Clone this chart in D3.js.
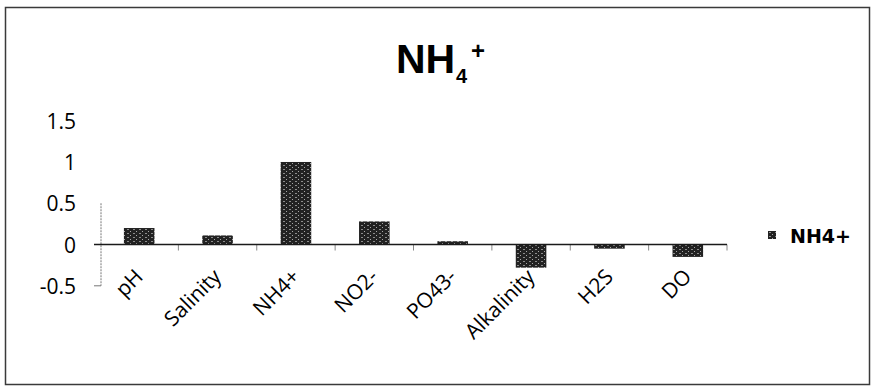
<!DOCTYPE html>
<html>
<head>
<meta charset="utf-8">
<script src="https://cdn.jsdelivr.net/npm/d3@7"></script>
<style>
  html, body { margin: 0; padding: 0; background: #fff; }
  svg { display: block; }
</style>
</head>
<body>
<svg id="chart" width="871" height="386"></svg>
<script>
// Parameters measured against NH4+
const categories = ["pH", "Salinity", "NH4+", "NO2-", "PO43-", "Alkalinity", "H2S", "DO"];
const values = [0.2, 0.11, 1.0, 0.28, 0.04, -0.28, -0.05, -0.15];
const yTicks = [-0.5, 0, 0.5, 1, 1.5];
const seriesName = "NH4+";

const svg = d3.select("#chart");
const plot = { left: 100, right: 727, top: 120.7, bottom: 285.8 };

const x = d3.scaleBand()
  .domain(categories)
  .range([plot.left, plot.right])
  .paddingInner(0.61)
  .paddingOuter(0.305);

const y = d3.scaleLinear()
  .domain([-0.5, 1.5])
  .range([plot.bottom, plot.top]);

// Stippled dark fill for the bars
const defs = svg.append("defs");
const pat = defs.append("pattern")
  .attr("id", "stipple")
  .attr("patternUnits", "userSpaceOnUse")
  .attr("width", 6).attr("height", 4);
pat.append("rect").attr("width", 6).attr("height", 4).attr("fill", "#222");
pat.append("rect").attr("x", 1).attr("y", 1).attr("width", 2).attr("height", 1).attr("fill", "#8c8c8c");
pat.append("rect").attr("x", 4).attr("y", 3).attr("width", 1).attr("height", 1).attr("fill", "#a8a8a8");

// Chart frame
svg.append("rect")
  .attr("x", 5.5).attr("y", 7.5)
  .attr("width", 864).attr("height", 377)
  .attr("fill", "none")
  .attr("stroke", "#3a3a3a")
  .attr("stroke-width", 1.5);

// Title NH4+
const titleFont = "'Liberation Sans', Arial, sans-serif";
svg.append("text")
  .attr("x", 396).attr("y", 73)
  .attr("font-family", titleFont).attr("font-weight", "bold")
  .attr("font-size", 41).attr("fill", "#000")
  .text("NH");
svg.append("text")
  .attr("x", 456).attr("y", 83)
  .attr("font-family", titleFont).attr("font-weight", "bold")
  .attr("font-size", 20).attr("fill", "#000")
  .text("4");
svg.append("text")
  .attr("x", 471).attr("y", 59)
  .attr("font-family", titleFont).attr("font-weight", "bold")
  .attr("font-size", 24).attr("fill", "#000")
  .text("+");

// Vertical axis line (partial, dotted grey)
svg.append("line")
  .attr("x1", plot.left + 1).attr("x2", plot.left + 1)
  .attr("y1", y(0.5)).attr("y2", y(-0.5))
  .attr("stroke", "#777").attr("stroke-width", 1)
  .attr("stroke-dasharray", "2,1");
svg.append("line")
  .attr("x1", plot.left - 6).attr("x2", plot.left + 1)
  .attr("y1", y(-0.5)).attr("y2", y(-0.5))
  .attr("stroke", "#777").attr("stroke-width", 1);

// Y tick labels
const yAxis = svg.append("g")
  .attr("transform", `translate(${76},0)`)
  .call(d3.axisLeft(y).tickValues(yTicks).tickSize(0).tickPadding(0)
    .tickFormat(d => String(d)));
yAxis.select(".domain").remove();
yAxis.selectAll("text")
  .attr("font-family", "'Open Sans', sans-serif")
  .attr("font-size", 21)
  .attr("fill", "#000")
  .attr("dy", "0.36em");

// Bars
svg.append("g")
  .selectAll("rect")
  .data(categories.map((c, i) => ({ c, v: values[i] })))
  .join("rect")
  .attr("x", d => x(d.c))
  .attr("width", x.bandwidth())
  .attr("y", d => y(Math.max(0, d.v)))
  .attr("height", d => Math.abs(y(d.v) - y(0)))
  .attr("fill", "url(#stipple)");

// Category tick marks at band boundaries
const step = x.step();
svg.append("g")
  .selectAll("line")
  .data(d3.range(1, categories.length + 1))
  .join("line")
  .attr("x1", i => plot.left + i * step)
  .attr("x2", i => plot.left + i * step)
  .attr("y1", y(0)).attr("y2", y(0) + 6)
  .attr("stroke", "#888").attr("stroke-width", 1);

// Zero baseline
svg.append("line")
  .attr("x1", plot.left - 6).attr("x2", plot.right)
  .attr("y1", y(0)).attr("y2", y(0))
  .attr("stroke", "#1a1a1a").attr("stroke-width", 1.5);

// Category labels, rotated
svg.append("g")
  .selectAll("text")
  .data(categories)
  .join("text")
  .attr("transform", d => `translate(${x(d) + x.bandwidth() / 2 + 5},${278}) rotate(-45)`)
  .attr("text-anchor", "end")
  .attr("font-family", "'Open Sans', sans-serif")
  .attr("font-size", 21)
  .attr("fill", "#000")
  .text(d => d);

// Legend
const legend = svg.append("g").attr("transform", "translate(768,231)");
legend.append("rect")
  .attr("width", 8).attr("height", 8)
  .attr("fill", "url(#stipple)");
legend.append("text")
  .attr("x", 22).attr("y", 12)
  .attr("font-family", "'DejaVu Sans', sans-serif")
  .attr("font-weight", "bold")
  .attr("font-size", 19)
  .attr("fill", "#000")
  .text(seriesName);
</script>
</body>
</html>
